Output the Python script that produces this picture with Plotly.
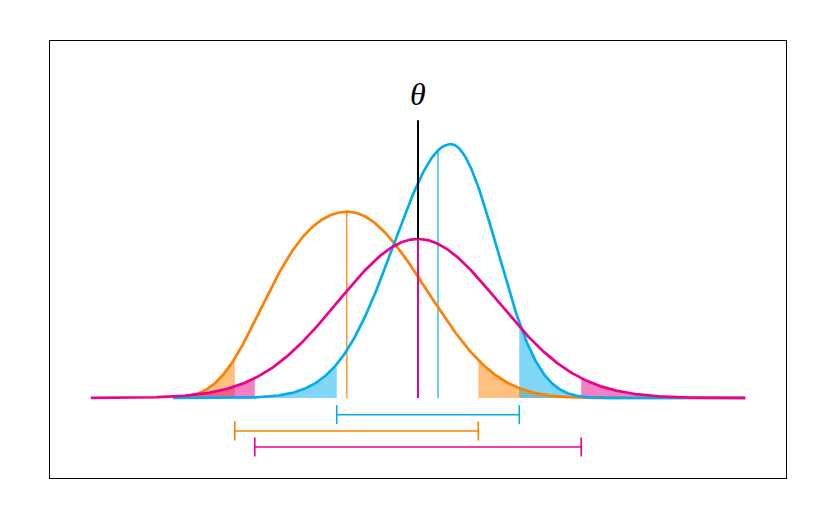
import numpy as np
import plotly.graph_objects as go

# ---- data (x in units of the magenta SD, theta = 0) ----
names = ["orange", "blue", "magenta"]
line_colors = ["#FF8000", "#00AEEF", "#EC008C"]
fill_colors = ["rgba(255,128,0,0.5)", "rgba(0,174,239,0.5)", "rgba(236,0,140,0.5)"]
modes = [-0.881, 0.409, 0.0]
peaks = [0.4674, 0.637, 0.399]
# log-density shape on each side of the mode: -(quad*d^2 + quart*d^4)
quad_left = [0.4064, 0.992, 0.5]
quart_left = [0.1878, 0.0, 0.0]
quad_right = [0.5338, 1.540, 0.5]
quart_right = [0.0231, 0.1475, 0.0]
estimates = [-0.89, 0.25, 0.0]
ci_low = [-2.29, -1.016, -2.04]
ci_high = [0.754, 1.266, 2.04]
ci_levels = [-0.0828, -0.0419, -0.1229]
curve_start = [-3.06, -3.06, -4.09]
curve_end = [4.09, 4.09, 4.09]
shade_end = [4.09, 4.09, 4.6]
theta_value = 0.0
theta_top = 0.697


def density(i, x):
    x = np.asarray(x, dtype=float)
    d = x - modes[i]
    a = np.where(d < 0, quad_left[i], quad_right[i])
    b = np.where(d < 0, quart_left[i], quart_right[i])
    return peaks[i] * np.exp(-(a * d ** 2 + b * d ** 4))


fig = go.Figure()

# shaded tails
for i in range(3):
    for lo, hi in [(curve_start[i], ci_low[i]), (ci_high[i], shade_end[i])]:
        xs = np.linspace(lo, hi, 200)
        fig.add_trace(go.Scatter(x=xs, y=density(i, xs), mode="lines", line=dict(width=0),
                                 fill="tozeroy", fillcolor=fill_colors[i], hoverinfo="skip"))

# estimate lines (orange, blue)
for i in [0, 1]:
    fig.add_trace(go.Scatter(x=[estimates[i], estimates[i]], y=[0, float(density(i, estimates[i]))],
                             mode="lines", line=dict(color=line_colors[i], width=1.2)))

# curves
for i in range(3):
    xs = np.linspace(curve_start[i], curve_end[i], 600)
    fig.add_trace(go.Scatter(x=xs, y=density(i, xs), mode="lines",
                             line=dict(color=line_colors[i], width=2.7)))

# theta line
fig.add_trace(go.Scatter(x=[theta_value, theta_value], y=[0, theta_top], mode="lines",
                         line=dict(color="black", width=2)))
# magenta estimate line
fig.add_trace(go.Scatter(x=[estimates[2], estimates[2]], y=[0, float(density(2, estimates[2]))],
                         mode="lines", line=dict(color=line_colors[2], width=2)))

# confidence interval bars
cap = 0.0238
for i in range(3):
    y = ci_levels[i]
    fig.add_trace(go.Scatter(x=[ci_low[i], ci_high[i]], y=[y, y], mode="lines",
                             line=dict(color=line_colors[i], width=1.6)))
    for xv in (ci_low[i], ci_high[i]):
        fig.add_trace(go.Scatter(x=[xv, xv], y=[y - cap, y + cap], mode="lines",
                                 line=dict(color=line_colors[i], width=1.6)))

fig.add_annotation(x=theta_value, y=0.762, text="<i>θ</i>", showarrow=False,
                   font=dict(family="Liberation Serif", size=32, color="black"))

axis_common = dict(showgrid=False, zeroline=False, showticklabels=False, ticks="",
                   showline=True, mirror=True, linecolor="black", linewidth=1)
fig.update_layout(
    width=818, height=511,
    margin=dict(l=42, r=40, t=33, b=41),
    plot_bgcolor="white", paper_bgcolor="white",
    showlegend=False,
    xaxis=dict(range=[-4.6, 4.6], **axis_common),
    yaxis=dict(range=[-0.2007, 0.8957], **axis_common),
)

fig.write_html("out.html")
